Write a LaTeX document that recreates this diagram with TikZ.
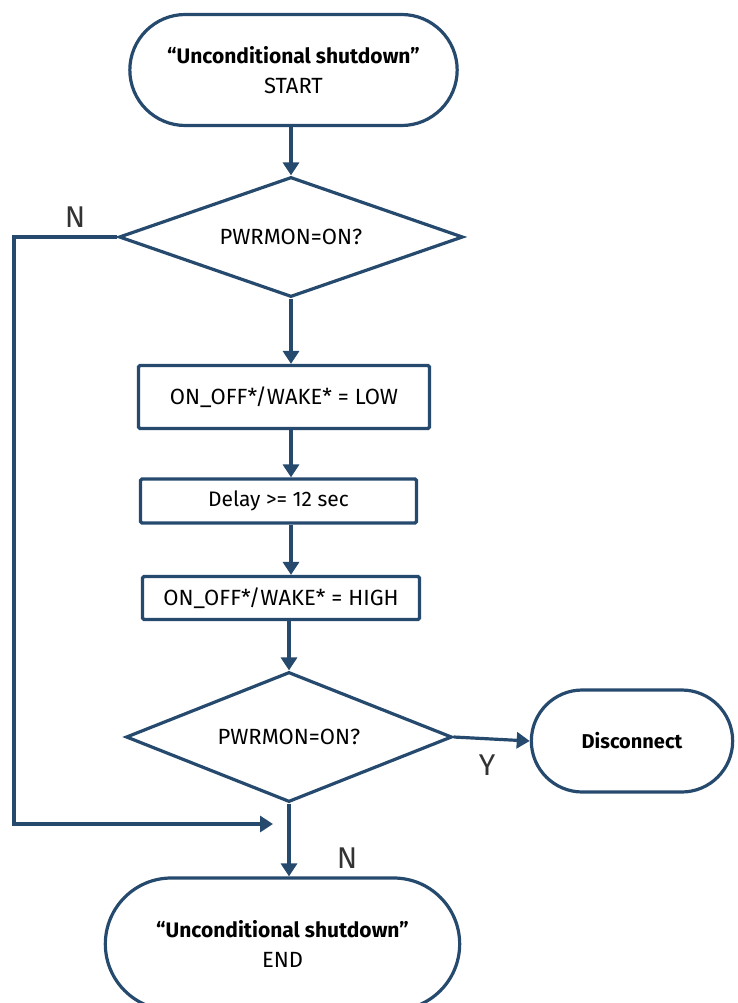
\documentclass[tikz,border=0pt]{standalone}
\usepackage{fontspec}
\setmainfont{Fira Sans}
\usetikzlibrary{arrows.meta,shapes.geometric,shapes.misc}
\definecolor{FlowInk}{HTML}{264A6E}

\begin{document}
\begin{tikzpicture}[x=1pt,y=-1pt,
      >={Triangle[length=13pt,width=16pt]},
      flow/.style={->,line width=3.2pt,draw=FlowInk},
      term/.style={draw=FlowInk,line width=3.2pt,rounded rectangle,
        align=center,font=\fontsize{22}{30}\selectfont},
      test/.style={draw=FlowInk,line width=3.2pt,diamond,aspect=2.8,
        inner sep=0pt,align=center,font=\fontsize{22}{26}\selectfont},
      act/.style={draw=FlowInk,line width=3.2pt,rounded corners=1.5pt,
        inner sep=0pt,align=center,font=\fontsize{22}{26}\selectfont},
      yn/.style={font=\fontsize{30}{34}\selectfont,text=black!80}
    ]
    \useasboundingbox (0,0) rectangle (737,1003);
    \clip (0,0) rectangle (737,1003);

    \node[term,minimum width=334pt,minimum height=111pt] (start) at (293.5,70)
      {{\fontsize{21}{30}\selectfont\bfseries “Unconditional shutdown”}\\START};
    \node[test,minimum width=344pt,minimum height=120pt] (d1) at (291,237)
      {PWRMON=ON?};
    \node[act,minimum width=291pt,minimum height=63pt] (b1) at (284,397)
      {ON\_OFF*/WAKE* = LOW};
    \node[act,minimum width=276pt,minimum height=44pt,
      font=\fontsize{21}{24}\selectfont] (b2) at (278.5,501)
      {Delay >= 12 sec};
    \node[act,minimum width=277pt,minimum height=43pt] (b3) at (281,598)
      {ON\_OFF*/WAKE* = HIGH};
    \node[test,minimum width=326pt,minimum height=130pt] (d2) at (289,737)
      {PWRMON=ON?};
    \node[term,minimum width=208pt,minimum height=102pt,
      font=\fontsize{20}{24}\selectfont\bfseries] (disc) at (632,741)
      {Disconnect};
    \node[term,minimum width=361pt,minimum height=132pt] (end) at (282.5,944)
      {{\fontsize{21}{30}\selectfont\bfseries “Unconditional shutdown”}\\END};

    % main column
    \draw[flow] (start.south -| d1.north) -- (d1.north);
    \draw[flow] (d1.south) -- (b1.north -| d1.south);
    \draw[flow] (b1.south -| d1.south) -- (b2.north -| d1.south);
    \draw[flow] (b2.south -| d1.south) -- (b3.north -| d1.south);
    \draw[flow] (b3.south -| d2.north) -- (d2.north);
    \draw[flow] (d2.south) -- (end.north -| d2.south);

    % Y branch
    \draw[flow] (d2.east) -- (disc.west);
    \node[yn] (ylab) at (487,765) {Y};

    % N branch round the left
    \coordinate (nback) at (14,824);
    \coordinate (njoin) at (273,824);
    \draw[flow] (d1.west) -| (nback) -- (njoin);
    \node[yn] (nlab1) at (75,217) {N};
    \node[yn] (nlab2) at (347,858) {N};
  \end{tikzpicture}
\end{document}
